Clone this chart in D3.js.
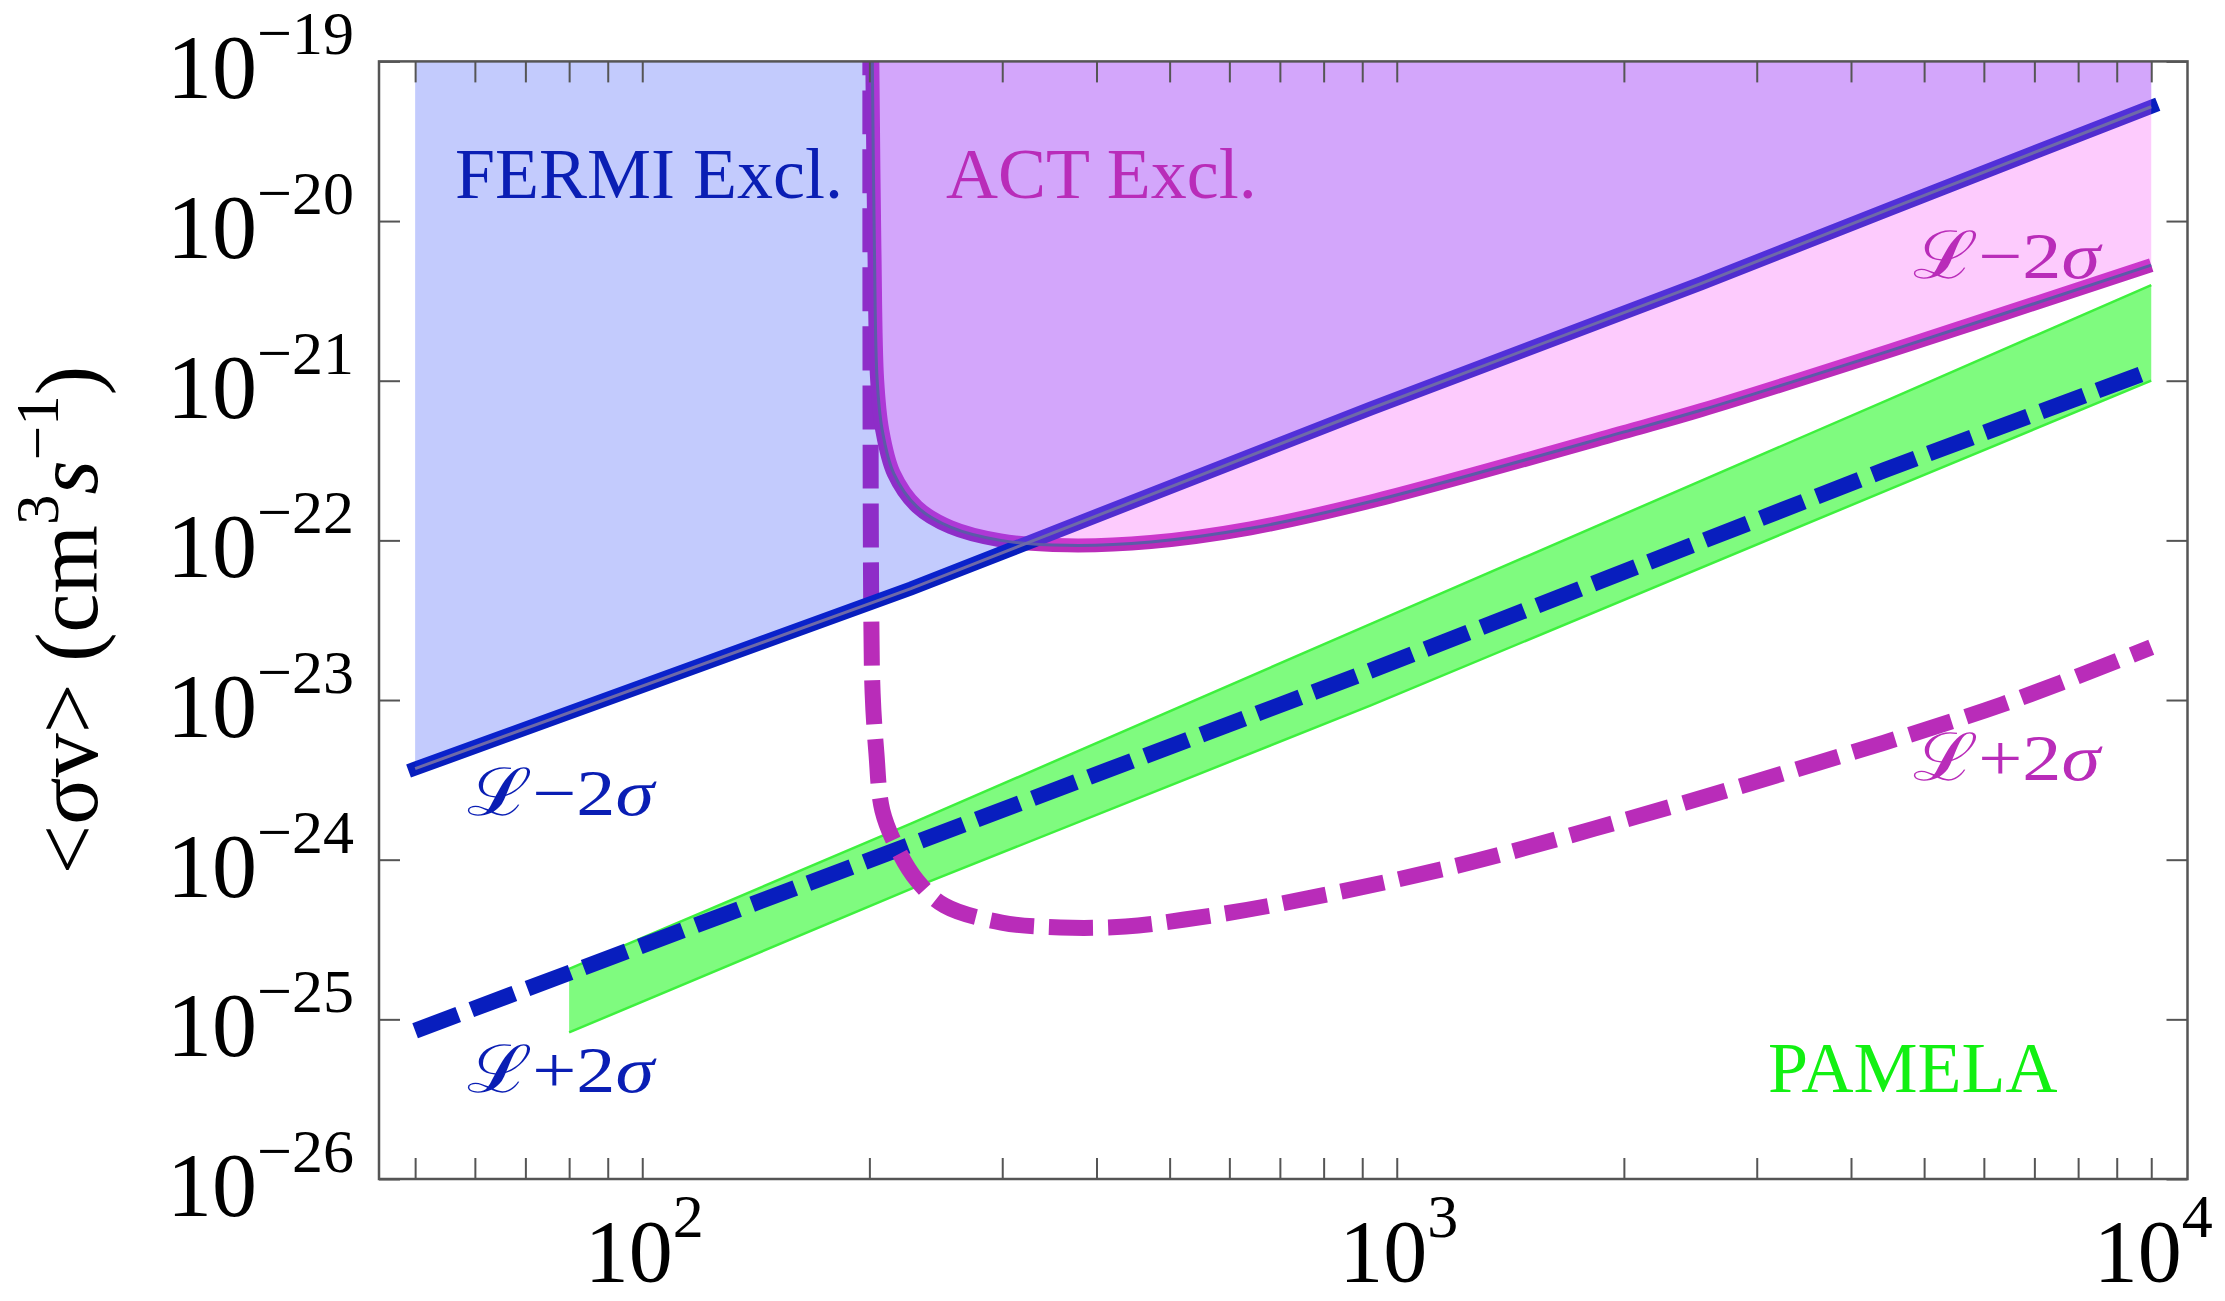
<!DOCTYPE html>
<html>
<head>
<meta charset="utf-8">
<script src="https://cdn.jsdelivr.net/npm/d3@7"></script>
<style>
  html, body { margin: 0; padding: 0; background: #fff; }
  svg { display: block; }
  text { font-family: "Liberation Serif", "Times New Roman", "DejaVu Serif", serif; }
</style>
</head>
<body>
<svg id="chart" width="2225" height="1301"></svg>
<script>
// values (mass in GeV, <sigma v> in cm^3/s)
const fermiLowMass  = [50, 227, 924, 2529, 4519, 10000];
const fermiLowSigma = [3.72e-24, 4.99e-23, 6.70e-22, 4.06e-21, 1.20e-20, 5.20e-20];

const fermiHighMass  = [50, 189, 924, 4426, 10000];
const fermiHighSigma = [8.49e-26, 8.97e-25, 1.53e-23, 2.75e-22, 1.16e-21];

const actLowMass  = [201.8, 203.1, 204.8, 208, 215.4, 231.4, 256.2, 298.5, 365.8, 472, 640, 924, 2042, 2529, 4519, 10000];
const actLowSigma = [1e-19, 6.68e-21, 1.01e-21, 4.90e-22, 2.63e-22, 1.62e-22, 1.21e-22, 1.0e-22, 9.31e-23, 9.77e-23, 1.19e-22, 1.75e-22, 4.90e-22, 6.53e-22, 1.55e-21, 5.30e-21];

const actHighMass  = [200.6, 201.1, 202.0, 204.3, 208.1, 218.5, 231.4, 251.5, 299.4, 358.4, 437.1, 523.4, 680.7, 1189, 2078, 3628, 6345, 10000];
const actHighSigma = [1e-19, 4.21e-23, 1.10e-23, 4.70e-24, 2.03e-24, 1.14e-24, 7.40e-25, 5.16e-25, 4.04e-25, 3.76e-25, 3.81e-25, 4.22e-25, 5.16e-25, 9.06e-25, 1.86e-24, 4.06e-24, 9.38e-24, 2.14e-23];

const pamelaMass  = [80, 227, 924, 4519, 10000];
const pamelaUpper = [2.07e-25, 1.68e-24, 3.0e-23, 7.73e-22, 3.97e-21];
const pamelaLower = [8.28e-26, 6.56e-25, 9.25e-24, 2.11e-22, 1.0e-21];

const xTickVals = [50, 60, 70, 80, 90, 100, 200, 300, 400, 500, 600, 700, 800, 900,
                   1000, 2000, 3000, 4000, 5000, 6000, 7000, 8000, 9000, 10000];
const xLabelPowers = [2, 3, 4];
const yLabelPowers = [-19, -20, -21, -22, -23, -24, -25, -26];

// layout
const box = {left: 379, right: 2187.5, top: 61.4, bottom: 1179};
const blue = "rgb(8,30,190)", magenta = "#b92cb9", textBlue = "#0a1eb4";

const svg = d3.select("#chart");

const x = d3.scaleLog().domain([44.78, 11170]).range([box.left, box.right]);
const y = d3.scaleLog().domain([1e-26, 1e-19]).range([box.bottom, box.top]);

svg.append("defs").append("clipPath").attr("id", "plotClip")
  .append("rect")
  .attr("x", box.left).attr("y", box.top)
  .attr("width", box.right - box.left).attr("height", box.bottom - box.top);

const plot = svg.append("g").attr("clip-path", "url(#plotClip)");

const straight = d3.line().x(d => x(d[0])).y(d => y(d[1]));
const smooth = d3.line().x(d => x(d[0])).y(d => y(d[1])).curve(d3.curveCatmullRom.alpha(0.5));

const fermiLow = d3.zip(fermiLowMass, fermiLowSigma);
const fermiHigh = d3.zip(fermiHighMass, fermiHighSigma);
const actLow = d3.zip(actLowMass, actLowSigma);
const actHigh = d3.zip(actHighMass, actHighSigma);
const pamela = d3.zip(pamelaMass, pamelaLower, pamelaUpper);

// PAMELA band
plot.append("path")
  .attr("d", d3.area().x(d => x(d[0])).y0(d => y(d[1])).y1(d => y(d[2]))(pamela))
  .attr("fill", "rgb(0,248,0)").attr("fill-opacity", 0.5);
[1, 2].forEach(k => {
  plot.append("path")
    .attr("d", straight(pamela.map(d => [d[0], d[k]])))
    .attr("fill", "none").attr("stroke", "#3ef03e").attr("stroke-width", 2.5);
});

// L+2sigma dashed curves
plot.append("path").attr("d", straight(fermiHigh))
  .attr("fill", "none").attr("stroke", blue).attr("stroke-width", 16)
  .attr("stroke-dasharray", "46,14");

plot.append("path").attr("d", smooth(actHigh))
  .attr("fill", "none").attr("stroke", magenta).attr("stroke-width", 16)
  .attr("stroke-dasharray", "44,15").attr("stroke-dashoffset", 30);

// L-2sigma solid curves
plot.append("path").attr("d", smooth(actLow))
  .attr("fill", "none").attr("stroke", magenta).attr("stroke-width", 14);
plot.append("path").attr("d", straight(fermiLow))
  .attr("fill", "none").attr("stroke", blue).attr("stroke-width", 14)
  .attr("stroke-linecap", "square");

// exclusion fills drawn over the curves (semi transparent)
plot.append("path")
  .attr("d", d3.area().x(d => x(d[0])).y0(box.top).y1(d => y(d[1]))(fermiLow))
  .attr("fill", "rgb(15,48,248)").attr("fill-opacity", 0.25);
plot.append("path")
  .attr("d", d3.area().x(d => x(d[0])).y0(box.top).y1(d => y(d[1])).curve(d3.curveCatmullRom.alpha(0.5))(actLow))
  .attr("fill", "rgb(249,82,249)").attr("fill-opacity", 0.3);

// thin centre stripes of the solid curves
plot.append("path").attr("d", smooth(actLow))
  .attr("fill", "none").attr("stroke", "#5c5aa8").attr("stroke-width", 3);
plot.append("path").attr("d", straight(fermiLow))
  .attr("fill", "none").attr("stroke", "#6e6aa8").attr("stroke-width", 3);

// frame and ticks
const yTickVals = yLabelPowers.map(p => Math.pow(10, p));
const axes = [
  svg.append("g").attr("transform", `translate(0,${box.bottom})`)
    .call(d3.axisBottom(x).tickValues(xTickVals).tickSize(-21).tickFormat("")),
  svg.append("g").attr("transform", `translate(0,${box.top})`)
    .call(d3.axisTop(x).tickValues(xTickVals).tickSize(-21).tickFormat("")),
  svg.append("g").attr("transform", `translate(${box.left},0)`)
    .call(d3.axisLeft(y).tickValues(yTickVals).tickSize(-21).tickFormat("")),
  svg.append("g").attr("transform", `translate(${box.right},0)`)
    .call(d3.axisRight(y).tickValues(yTickVals).tickSize(-21).tickFormat(""))
];
axes.forEach(a => {
  a.select(".domain").remove();
  a.selectAll(".tick line").attr("stroke", "#555").attr("stroke-width", 2);
});

svg.append("rect")
  .attr("x", box.left).attr("y", box.top)
  .attr("width", box.right - box.left).attr("height", box.bottom - box.top)
  .attr("fill", "none").attr("stroke", "#555").attr("stroke-width", 2.5);

// tick labels
xLabelPowers.forEach(p => {
  const t = svg.append("text")
    .attr("x", x(Math.pow(10, p)) + 2).attr("y", 1281)
    .attr("text-anchor", "middle").attr("fill", "#000");
  t.append("tspan").style("font-size", "88px").text("10");
  t.append("tspan").style("font-size", "62px").attr("dy", -44).text(p);
});

yLabelPowers.forEach(p => {
  const t = svg.append("text")
    .attr("x", 354).attr("y", y(Math.pow(10, p)) + 37)
    .attr("text-anchor", "end").attr("fill", "#000");
  t.append("tspan").style("font-size", "90px").text("10");
  t.append("tspan").style("font-size", "62px").attr("dy", -44).text("\u2212" + Math.abs(p));
});

// y axis title
const title = svg.append("text")
  .attr("transform", `translate(97,${(box.top + box.bottom) / 2}) rotate(-90)`)
  .attr("text-anchor", "middle").attr("fill", "#000").style("font-size", "88px");
title.append("tspan").text("<\u03c3v> (cm");
title.append("tspan").style("font-size", "61px").attr("dy", -39).text("3");
title.append("tspan").style("font-style", "italic").attr("dy", 39).text("s");
title.append("tspan").style("font-size", "61px").attr("dy", -39).text("\u22121");
title.append("tspan").attr("dy", 39).text(")");

// annotations
function plainLabel(px, py, str, color) {
  svg.append("text").attr("x", px).attr("y", py)
    .attr("fill", color).style("font-size", "72px").text(str);
}
plainLabel(455, 198, "FERMI Excl.", textBlue);
plainLabel(946, 198, "ACT Excl.", magenta);
plainLabel(1768, 1092, "PAMELA", "#12f012");

function sigmaLabel(px, py, sign, color) {
  const t = svg.append("text").attr("x", px).attr("y", py)
    .attr("fill", color).style("font-size", "66px")
    .attr("textLength", 187).attr("lengthAdjust", "spacingAndGlyphs");
  t.append("tspan").text("\u2112");
  t.append("tspan").text(sign + "2");
  t.append("tspan").style("font-style", "italic").text("\u03c3");
}
sigmaLabel(467, 815, "\u2212", textBlue);
sigmaLabel(467, 1092, "+", textBlue);
sigmaLabel(1913, 278, "\u2212", magenta);
sigmaLabel(1913, 780, "+", magenta);
</script>
</body>
</html>
